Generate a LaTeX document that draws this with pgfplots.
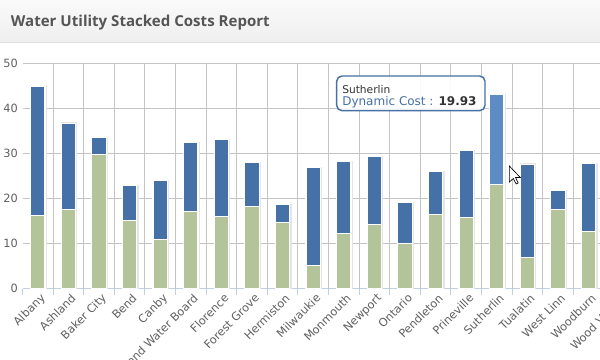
\documentclass[border=0pt]{standalone}
\usepackage{fontspec}
\setmainfont{DejaVu Sans}
\newfontfamily\titlefont{Open Sans}
\usepackage{pgfplots}
\pgfplotsset{compat=1.18}
\usepackage{pgfplotstable}
\definecolor{barblue}{HTML}{4571A6}
\definecolor{barhl}{HTML}{5C8CC3}
\definecolor{bargreen}{HTML}{B3C39A}
\definecolor{gridgray}{HTML}{C4C4C4}
\definecolor{axisblue}{HTML}{C0D0E0}
\definecolor{labelgray}{HTML}{606060}
\definecolor{titlegray}{HTML}{555555}

\pgfplotstableread{
idx base dyn hl
0  16.3 28.6 0
1  17.6 19.2 0
2  29.9 3.7  0
3  15.2 7.7  0
4  11.0 13.0 0
5  17.1 15.4 0
6  16.0 17.1 0
7  18.2 9.8  0
8  14.7 4.0  0
9  5.1  21.8 0
10 12.2 16.0 0
11 14.2 15.2 0
12 10.0 9.1  0
13 16.5 9.5  0
14 15.8 14.9 0
15 23.2 0    19.93
16 7.0  20.7 0
17 17.7 4.1  0
18 12.7 15.1 0
19 14.0 10.0 0
}\costs

\pgfplotsset{geom/.style={
  at={(16.875pt,53.4pt)}, anchor=south west,
  scale only axis, width=459pt, height=168.75pt,
  xmin=-0.5, xmax=19.5, ymin=0, ymax=50}}

\begin{document}
\begin{tikzpicture}
\useasboundingbox (0,0) rectangle (450pt,270pt);
\clip (0,0) rectangle (450pt,270pt);
\fill[white] (0,0) rectangle (450pt,270pt);
\shade[top color=gray!4, bottom color=gray!13] (0,237.75pt) rectangle (450pt,270pt);
\draw[gray!25, line width=0.75pt] (0,237.75pt) -- (450pt,237.75pt);
\node[anchor=base west, text=titlegray, font=\titlefont\bfseries\fontsize{11.3}{14}\selectfont, inner sep=0pt] at (8pt,250pt) {Water Utility Stacked Costs Report};

\begin{axis}[
  geom,
  ybar stacked, bar width=10.7pt,
  axis lines*=left,
  y axis line style={draw=none},
  x axis line style={axisblue, line width=0.75pt, -},
  xtick={0,...,19},
  xticklabels={Albany, Ashland, Baker City, Bend, Canby, Coos Bay-North Bend Water Board, Florence, Forest Grove, Hermiston, Milwaukie, Monmouth, Newport, Ontario, Pendleton, Prineville, Sutherlin, Tualatin, West Linn, Woodburn, Wood Village},
  major tick length=0pt,
  minor tick length=4.5pt,
  tick align=outside,
  minor xtick={-0.5,0.5,...,19.5},
  minor x tick style={axisblue, line width=0.75pt},
  extra x ticks={0.5,1.5,...,18.5},
  extra x tick labels={},
  extra x tick style={grid=major},
  ytick={0,10,...,50},
  ymajorgrids,
  major grid style={gridgray, line width=0.75pt},
  /pgf/number format/assume math mode=true,
  yticklabel style={font=\fontsize{8.5}{10}\selectfont, text=labelgray},
  xticklabel style={rotate=45, anchor=north east, font=\fontsize{8.5}{10}\selectfont, text=labelgray, inner sep=1pt, yshift=-2pt},
]
\end{axis}

\begin{axis}[geom, hide axis, ybar, bar width=11.5pt]
\addplot[bar shift=0.45pt, fill=black!10, draw=black!10, line width=1.2pt] table[x=idx, y expr=\thisrow{base}+\thisrow{dyn}+\thisrow{hl}]{\costs};
\end{axis}

\begin{axis}[geom, hide axis, ybar stacked, bar width=10.7pt]
\addplot[fill=bargreen, draw=white, line width=0.9pt] table[x=idx,y=base]{\costs};
\addplot[fill=barblue, draw=white, line width=0.9pt] table[x=idx,y=dyn]{\costs};
\addplot[fill=barhl, draw=white, line width=0.9pt] table[x=idx,y=hl]{\costs};
\end{axis}

\draw[barblue, line width=1.1pt, rounded corners=4pt, fill=white, fill opacity=0.9] (252.5pt,187pt) rectangle (363.75pt,213pt);
\node[anchor=base west, inner sep=0pt, font=\fontsize{8}{10}\selectfont, text=black!80] at (256.5pt,199.5pt) {Sutherlin};
\node[anchor=base west, inner sep=0pt, font=\fontsize{9}{11}\selectfont] at (256.5pt,190.5pt) {\textcolor{barblue}{Dynamic Cost :} \textcolor{black!80}{\bfseries 19.93}};

% mouse pointer
\begin{scope}[shift={(382pt,145.5pt)}, x=0.75pt, y=-0.75pt]
\draw[fill=white, draw=black, line width=0.5pt, line join=miter] (0,0) -- (0,16) -- (4,12.5) -- (6.8,18) -- (8.8,17) -- (6.2,11.5) -- (11,11.5) -- cycle;
\end{scope}
\end{tikzpicture}
\end{document}
